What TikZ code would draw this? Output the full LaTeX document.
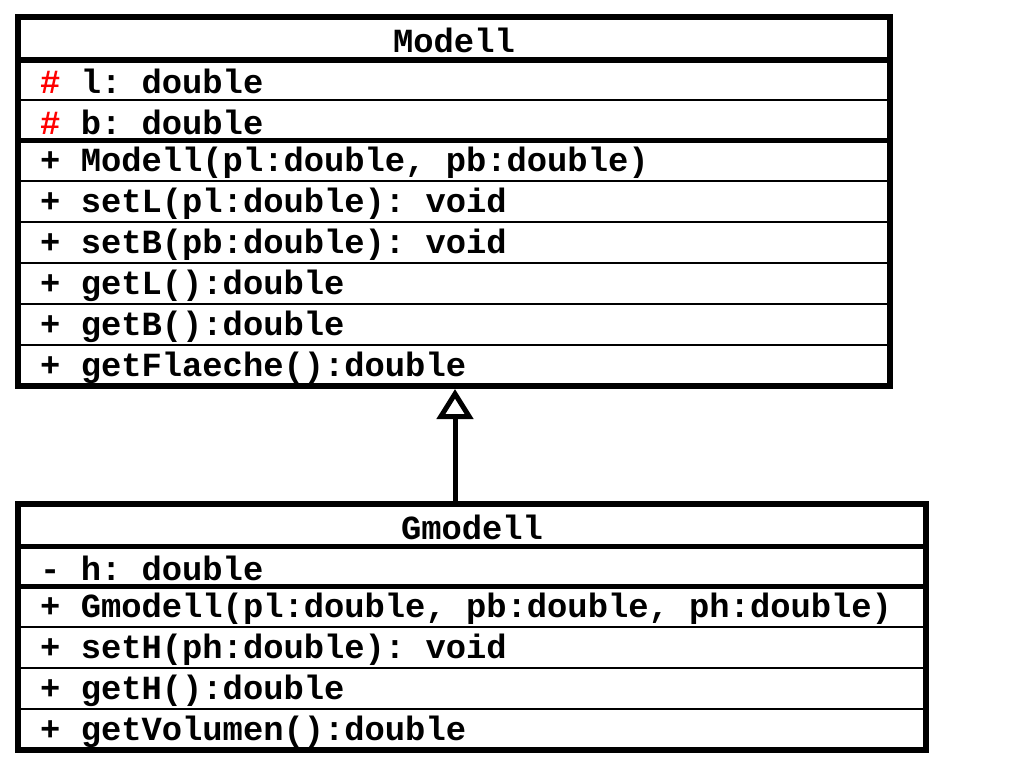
\documentclass[tikz,border=0pt]{standalone}
\usepackage{fontspec}
\setmonofont{Liberation Mono}
\usetikzlibrary{arrows.meta}
\tikzset{
  member/.style={anchor=west,inner sep=0pt,font=\ttfamily\bfseries\fontsize{33.8}{34}\selectfont},
  title/.style={member,anchor=center},
  outline/.style={line width=6pt},
  rowline/.style={line width=2pt},
  splitline/.style={line width=5pt}
}
\begin{document}
\begin{tikzpicture}[x=1pt,y=-1pt]
       \useasboundingbox (0,0) rectangle (1024,768);
       % Modell
       \draw[outline] (18,17) rectangle (890,386);
       \foreach \y in {100,181,222,263,304,345} \draw[rowline] (18,\y) -- (890,\y);
       \draw[splitline] (18,60) -- (890,60);
       \draw[splitline] (18,140) -- (890,140);
       \node[title] (modell) at (454,40) {Modell};
       \node[member] (ml) at (40,81) {\textcolor{red}{\#} l: double};
       \node[member] (mb) at (40,122) {\textcolor{red}{\#} b: double};
       \foreach \t [count=\i from 0] in {{+ Modell(pl:double, pb:double)},{+ setL(pl:double): void},
           {+ setB(pb:double): void},{+ getL():double},{+ getB():double},{+ getFlaeche():double}}
         \node[member] (mop\i) at (40,163+41*\i) {\t};
       % Gmodell
       \draw[outline] (18,504) rectangle (926,750);
       \foreach \y in {627,668,709} \draw[rowline] (18,\y) -- (926,\y);
       \draw[splitline] (18,546) -- (926,546);
       \draw[splitline] (18,586) -- (926,586);
       \node[title] (gmodell) at (472,527) {Gmodell};
       \node[member] (gh) at (40,568) {- h: double};
       \foreach \t [count=\i from 0] in {{+ Gmodell(pl:double, pb:double, ph:double)},{+ setH(ph:double): void},
           {+ getH():double},{+ getVolumen():double}}
         \node[member] (gop\i) at (40,609+41*\i) {\t};
       % inheritance
       \coordinate (sub) at (455,502);
       \coordinate (super) at (455,389);
       \draw[line width=5pt,-{Triangle[open,length=30pt,width=36pt,line width=5pt]}] (sub) -- (super);
\end{tikzpicture}
\end{document}
